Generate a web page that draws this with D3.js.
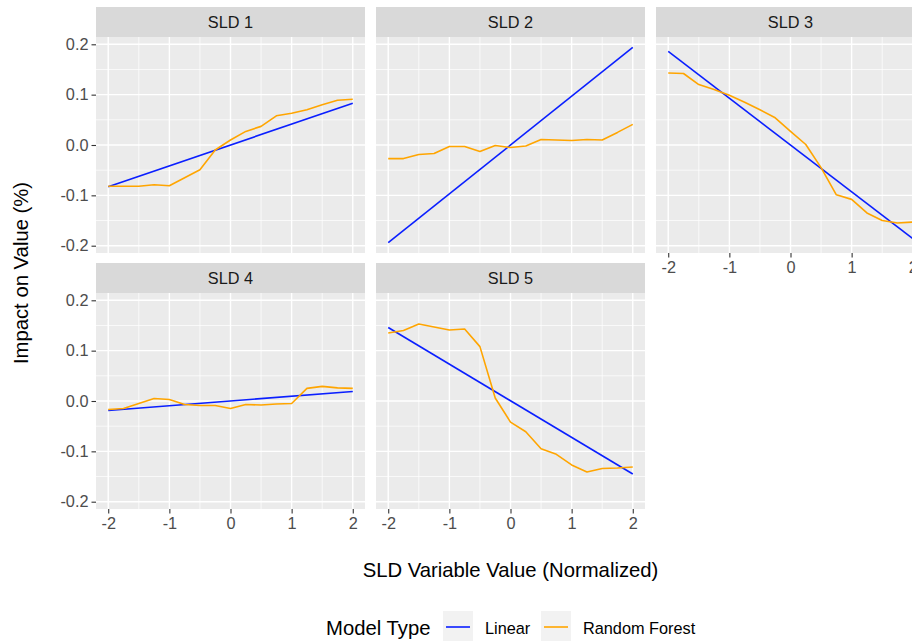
<!DOCTYPE html>
<html>
<head>
<meta charset="utf-8">
<script src="https://cdn.jsdelivr.net/npm/d3@7"></script>
<style>
  html, body { margin: 0; padding: 0; background: #fff; }
  svg { display: block; font-family: "Liberation Sans", Arial, sans-serif; }
</style>
</head>
<body>
<div id="chart"></div>
<script>
const W = 912;
const H = 641;

// facets
const panels = ['SLD 1', 'SLD 2', 'SLD 3', 'SLD 4', 'SLD 5'];

// linear model: value at x = -2 and x = 2
const linearEnds = [
  [-0.083, 0.083],
  [-0.194, 0.194],
  [0.186, -0.186],
  [-0.019, 0.019],
  [0.146, -0.145]
];

// random forest partial dependence, x from -2 to 2 in steps of 0.25
const rfX = [-2, -1.75, -1.5, -1.25, -1, -0.75, -0.5, -0.25, 0, 0.25, 0.5, 0.75, 1, 1.25, 1.5, 1.75, 2];
const rfSLD1 = [-0.082, -0.082, -0.082, -0.079, -0.081, -0.065, -0.049, -0.010, 0.010, 0.027, 0.037, 0.058, 0.063, 0.070, 0.080, 0.089, 0.091];
const rfSLD2 = [-0.027, -0.027, -0.019, -0.017, -0.003, -0.003, -0.013, -0.001, -0.005, -0.002, 0.011, 0.010, 0.009, 0.011, 0.010, 0.025, 0.041];
const rfSLD3 = [0.143, 0.142, 0.120, 0.110, 0.099, 0.085, 0.070, 0.054, 0.027, 0.001, -0.045, -0.099, -0.108, -0.135, -0.150, -0.155, -0.153];
const rfSLD4 = [-0.017, -0.015, -0.005, 0.005, 0.003, -0.007, -0.009, -0.009, -0.015, -0.007, -0.008, -0.006, -0.005, 0.025, 0.029, 0.026, 0.025];
const rfSLD5 = [0.135, 0.140, 0.153, 0.147, 0.141, 0.143, 0.108, 0.006, -0.042, -0.061, -0.095, -0.106, -0.127, -0.141, -0.134, -0.133, -0.131];
const rfSeries = [rfSLD1, rfSLD2, rfSLD3, rfSLD4, rfSLD5];

const xTicks = [-2, -1, 0, 1, 2];
const xMinor = [-1.5, -0.5, 0.5, 1.5];
const yTicks = [0.2, 0.1, 0, -0.1, -0.2];
const yMinor = [0.15, 0.05, -0.05, -0.15];

const modelTypes = ['Linear', 'Random Forest'];
const modelColors = ['#0a1fff', '#ffa500'];

// layout
const panelW = 269;
const panelH = 216;
const colX = [96, 376, 656];
const stripH = 30;
const rowY = [37, 293];
const tickFont = 16.3;

const svg = d3.select('#chart').append('svg')
  .attr('width', W)
  .attr('height', H)
  .attr('viewBox', `0 0 ${W} ${H}`);

const x = d3.scaleLinear().domain([-2.2, 2.2]).range([0, panelW]);
const y = d3.scaleLinear().domain([-0.2145, 0.2145]).range([panelH, 0]);
// ggplot prints a plain hyphen for negatives
const yFmt = d => d.toFixed(1);
const xFmt = d => String(d);

const line = d3.line().x(d => x(d[0])).y(d => y(d[1]));

panels.forEach((name, i) => {
  const col = i % 3;
  const row = Math.floor(i / 3);
  const g = svg.append('g')
    .attr('transform', `translate(${colX[col]},${rowY[row]})`);

  // strip
  g.append('rect')
    .attr('x', 0).attr('y', -stripH)
    .attr('width', panelW).attr('height', stripH)
    .attr('fill', '#d9d9d9');
  g.append('text')
    .attr('x', panelW / 2).attr('y', -stripH / 2)
    .attr('text-anchor', 'middle')
    .attr('dominant-baseline', 'central')
    .attr('font-size', tickFont)
    .attr('fill', '#1a1a1a')
    .text(name);

  // panel background + grid
  g.append('rect')
    .attr('width', panelW).attr('height', panelH)
    .attr('fill', '#ebebeb');

  g.selectAll('.xminor').data(xMinor).join('line')
    .attr('x1', d => x(d)).attr('x2', d => x(d))
    .attr('y1', 0).attr('y2', panelH)
    .attr('stroke', '#fff').attr('stroke-width', 0.7);
  g.selectAll('.yminor').data(yMinor).join('line')
    .attr('y1', d => y(d)).attr('y2', d => y(d))
    .attr('x1', 0).attr('x2', panelW)
    .attr('stroke', '#fff').attr('stroke-width', 0.7);
  g.selectAll('.xmajor').data(xTicks).join('line')
    .attr('x1', d => x(d)).attr('x2', d => x(d))
    .attr('y1', 0).attr('y2', panelH)
    .attr('stroke', '#fff').attr('stroke-width', 1.4);
  g.selectAll('.ymajor').data(yTicks).join('line')
    .attr('y1', d => y(d)).attr('y2', d => y(d))
    .attr('x1', 0).attr('x2', panelW)
    .attr('stroke', '#fff').attr('stroke-width', 1.4);

  // lines
  const lin = [[-2, linearEnds[i][0]], [2, linearEnds[i][1]]];
  g.append('path')
    .datum(lin)
    .attr('d', line)
    .attr('fill', 'none')
    .attr('stroke', modelColors[0])
    .attr('stroke-width', 1.6);
  g.append('path')
    .datum(rfX.map((v, k) => [v, rfSeries[i][k]]))
    .attr('d', line)
    .attr('fill', 'none')
    .attr('stroke', modelColors[1])
    .attr('stroke-width', 1.6)
    .attr('stroke-linejoin', 'round');

  // y axis on first column
  if (col === 0) {
    const ya = g.append('g')
      .call(d3.axisLeft(y).tickValues(yTicks).tickFormat(yFmt).tickSize(4.5).tickPadding(3));
    ya.select('.domain').remove();
    ya.selectAll('line').attr('stroke', '#333').attr('stroke-width', 1.1);
    ya.selectAll('text').attr('font-size', tickFont).attr('fill', '#4d4d4d')
      .attr('font-family', '"Liberation Sans", Arial, sans-serif');
  }

  // x axis on bottom-most panels
  if (row === 1 || i === 2) {
    const xa = g.append('g')
      .attr('transform', `translate(0,${panelH})`)
      .call(d3.axisBottom(x).tickValues(xTicks).tickFormat(xFmt).tickSize(4.5).tickPadding(4));
    xa.select('.domain').remove();
    xa.selectAll('line').attr('stroke', '#333').attr('stroke-width', 1.1);
    xa.selectAll('text').attr('font-size', tickFont).attr('fill', '#4d4d4d')
      .attr('font-family', '"Liberation Sans", Arial, sans-serif');
  }
});

// axis titles
svg.append('text')
  .attr('x', (colX[0] + colX[2] + panelW) / 2)
  .attr('y', 570)
  .attr('text-anchor', 'middle')
  .attr('dominant-baseline', 'central')
  .attr('font-size', 20.3)
  .attr('fill', '#000')
  .text('SLD Variable Value (Normalized)');

svg.append('text')
  .attr('transform', `translate(21,${(rowY[0] + rowY[1] + panelH) / 2}) rotate(-90)`)
  .attr('text-anchor', 'middle')
  .attr('dominant-baseline', 'central')
  .attr('font-size', 20.3)
  .attr('fill', '#000')
  .text('Impact on Value (%)');

// legend
const legend = svg.append('g').attr('transform', 'translate(0,628)');
legend.append('text')
  .attr('x', 326).attr('y', 0)
  .attr('dominant-baseline', 'central')
  .attr('font-size', 20.3)
  .text('Model Type');

const keyX = [443, 541];
modelTypes.forEach((m, i) => {
  legend.append('rect')
    .attr('x', keyX[i]).attr('y', -17)
    .attr('width', 30).attr('height', 30)
    .attr('fill', '#f2f2f2');
  legend.append('line')
    .attr('x1', keyX[i] + 3).attr('x2', keyX[i] + 27)
    .attr('y1', -1).attr('y2', -1)
    .attr('stroke', modelColors[i])
    .attr('stroke-width', 1.6);
  legend.append('text')
    .attr('x', keyX[i] + 42).attr('y', 0)
    .attr('dominant-baseline', 'central')
    .attr('font-size', tickFont)
    .attr('fill', '#000')
    .text(m);
});
</script>
</body>
</html>
